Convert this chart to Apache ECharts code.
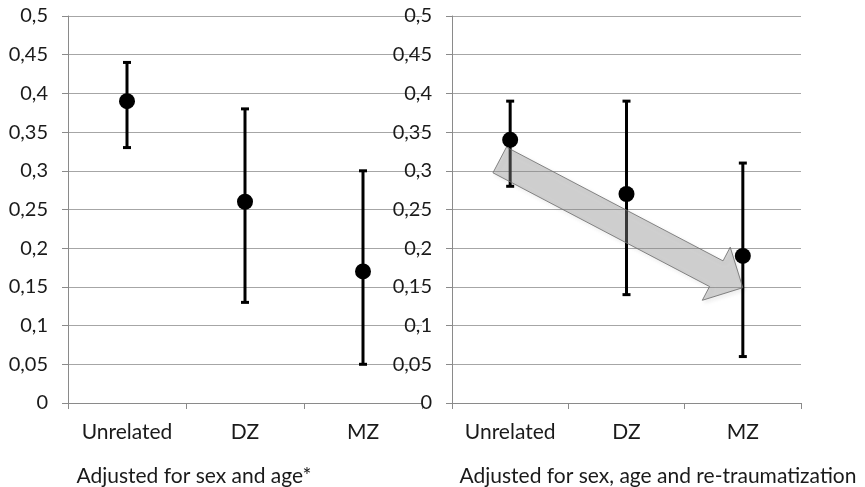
<!DOCTYPE html>
<html>
<head>
<meta charset="utf-8">
<script src="https://cdn.jsdelivr.net/npm/echarts@6/dist/echarts.min.js"></script>
<style>
html,body{margin:0;padding:0;background:#fff;}
#c{width:865px;height:487px;}
</style>
</head>
<body>
<div id="c"></div>
<script>
var categories = ['Unrelated', 'DZ', 'MZ'];
var yTicks = [0, 0.05, 0.1, 0.15, 0.2, 0.25, 0.3, 0.35, 0.4, 0.45, 0.5];
var leftEst = [0.39, 0.26, 0.17];
var leftLow = [0.33, 0.13, 0.05];
var leftHigh = [0.44, 0.38, 0.30];
var rightEst = [0.34, 0.27, 0.19];
var rightLow = [0.28, 0.14, 0.06];
var rightHigh = [0.39, 0.39, 0.31];
var panelTitles = ['Adjusted for sex and age*', 'Adjusted for sex, age and re-traumatization'];
var arrowFrom = [0, 0.314];
var arrowTo = [2, 0.149];

var FONT = 'Lato, "Open Sans", sans-serif';
var chart = echarts.init(document.getElementById('c'));

function fmt(v) { return (+v.toFixed(2)).toString().replace('.', ','); }

function xAxisDef(i) {
  return {
    type: 'category', gridIndex: i, data: categories,
    boundaryGap: true,
    axisLine: { lineStyle: { color: '#8a8a8a', width: 1 } },
    axisTick: { show: true, length: 6, interval: 0, lineStyle: { color: '#8a8a8a' } },
    axisLabel: { color: '#1a1a1a', fontSize: 21, fontFamily: FONT, margin: 19, interval: 0, hideOverlap: false }
  };
}
function yAxisDef(i) {
  return {
    type: 'value', gridIndex: i, min: 0, max: 0.5, interval: 0.05,
    axisLine: { show: true, lineStyle: { color: '#8a8a8a', width: 1 } },
    axisTick: { show: true, length: 6, lineStyle: { color: '#8a8a8a' } },
    splitLine: { show: true, lineStyle: { color: '#a6a6a6', width: 1 } },
    axisLabel: { color: '#1a1a1a', fontSize: 20, fontFamily: FONT, margin: 20, formatter: fmt }
  };
}
function errData(low, high) {
  return categories.map(function (c, i) { return [i, low[i], high[i]]; });
}
function errSeries(i, low, high) {
  return {
    type: 'custom', xAxisIndex: i, yAxisIndex: i, z: 3,
    data: errData(low, high),
    renderItem: function (params, api) {
      var lo = api.coord([api.value(0), api.value(1)]);
      var hi = api.coord([api.value(0), api.value(2)]);
      var cw = 4;
      var st = { stroke: '#000', lineWidth: 3 };
      return {
        type: 'group',
        children: [
          { type: 'line', shape: { x1: lo[0], y1: lo[1], x2: hi[0], y2: hi[1] }, style: st },
          { type: 'line', shape: { x1: lo[0] - cw, y1: lo[1], x2: lo[0] + cw, y2: lo[1] }, style: st },
          { type: 'line', shape: { x1: hi[0] - cw, y1: hi[1], x2: hi[0] + cw, y2: hi[1] }, style: st }
        ]
      };
    }
  };
}
function ptSeries(i, est) {
  return {
    type: 'scatter', xAxisIndex: i, yAxisIndex: i, z: 4,
    symbol: 'circle', symbolSize: 16,
    itemStyle: { color: '#000', opacity: 1 },
    emphasis: { disabled: true },
    data: est.map(function (v, k) { return [k, v]; })
  };
}

chart.setOption({
  animation: false,
  backgroundColor: '#fff',
  textStyle: { fontFamily: FONT },
  grid: [
    { left: 68, top: 16, width: 354, height: 387, containLabel: false },
    { left: 452, top: 16, width: 349, height: 387, containLabel: false }
  ],
  xAxis: [xAxisDef(0), xAxisDef(1)],
  yAxis: [yAxisDef(0), yAxisDef(1)],
  title: [
    { text: panelTitles[0], left: 194, top: 466, textAlign: 'center', padding: 0,
      textStyle: { fontSize: 21, fontWeight: 'normal', color: '#1a1a1a', fontFamily: FONT } },
    { text: panelTitles[1], left: 658, top: 466, textAlign: 'center', padding: 0,
      textStyle: { fontSize: 21, fontWeight: 'normal', color: '#1a1a1a', fontFamily: FONT } }
  ],
  series: [
    errSeries(0, leftLow, leftHigh), ptSeries(0, leftEst),
    errSeries(1, rightLow, rightHigh), ptSeries(1, rightEst)
  ]
});

// Annotation arrow anchored to the right panel's data coordinates
var f = { xAxisIndex: 1, yAxisIndex: 1 };
var p0 = chart.convertToPixel(f, [0, arrowFrom[1]]);
var p1 = chart.convertToPixel(f, [1, arrowFrom[1]]);
var pe = chart.convertToPixel(f, [arrowTo[0], arrowTo[1]]);
var band = p1[0] - p0[0];
var tail = [p0[0] - 0.09 * band, p0[1]];
var dx = pe[0] - tail[0], dy = pe[1] - tail[1];
var L = Math.sqrt(dx * dx + dy * dy);
var ux = dx / L, uy = dy / L, nx = -uy, ny = ux;
var bw = 14.5, hw = 30, hl = 30;
var neck = [pe[0] - ux * hl, pe[1] - uy * hl];
function P(b, s) { return [b[0] + nx * s, b[1] + ny * s]; }
var pts = [P(tail, bw), P(neck, bw), P(neck, hw), pe, P(neck, -hw), P(neck, -bw), P(tail, -bw)];
chart.setOption({
  graphic: [{
    type: 'polygon', z: 100,
    shape: { points: pts },
    style: {
      fill: 'rgba(150,150,150,0.38)', stroke: 'rgba(110,110,110,0.85)', lineWidth: 1,
      shadowBlur: 4, shadowOffsetX: 2, shadowOffsetY: 2, shadowColor: 'rgba(0,0,0,0.15)'
    }
  }]
});
</script>
</body>
</html>
